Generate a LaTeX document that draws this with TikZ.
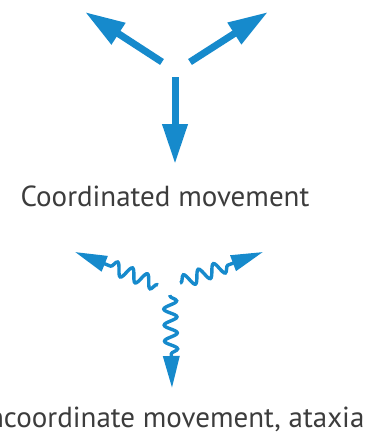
\documentclass[tikz,border=0pt]{standalone}
\usepackage{fontspec}
\setmainfont{PT Sans}
\usetikzlibrary{arrows.meta,decorations.pathmorphing}
\definecolor{arrowblue}{RGB}{22,138,204}
\definecolor{labelgray}{RGB}{60,60,60}
\tikzset{
  straightarrow/.style={draw=arrowblue, line width=7pt, -{Triangle[length=40pt,width=24pt]}},
  wavyarrow/.style={draw=arrowblue, line width=3.4pt, -{Triangle[length=32pt,width=16pt]},
    decorate, decoration={snake, amplitude=6.5pt, segment length=16pt, pre length=1pt, post length=31pt}},
  caption/.style={text=labelgray, font=\fontsize{29}{34}\selectfont, inner sep=0pt, anchor=base}
}
\begin{document}
\begin{tikzpicture}[x=1pt,y=-1pt]
\useasboundingbox (0,0) rectangle (369,444);
% top: coordinated
\coordinate (c1s) at (162,62);
\coordinate (c1e) at (85,12);
\coordinate (c2s) at (190,62);
\coordinate (c2e) at (268,12);
\coordinate (c3s) at (175,77);
\coordinate (c3e) at (175,164);
\draw[straightarrow] (c1s) -- (c1e);
\draw[straightarrow] (c2s) -- (c2e);
\draw[straightarrow] (c3s) -- (c3e);
\node[caption] (top) at (165,206) {Coordinated movement};
% bottom: incoordinate
\coordinate (w1s) at (158,285);
\coordinate (w1e) at (75,252);
\coordinate (w2s) at (180,283);
\coordinate (w2e) at (263,252);
\coordinate (w3s) at (170,295);
\coordinate (w3e) at (172,388);
\draw[wavyarrow] (w1s) -- (w1e);
\draw[wavyarrow] (w2s) -- (w2e);
\draw[wavyarrow] (w3s) -- (w3e);
\node[caption] (bottom) at (172,427) {Incoordinate movement, ataxia};
\end{tikzpicture}
\end{document}
